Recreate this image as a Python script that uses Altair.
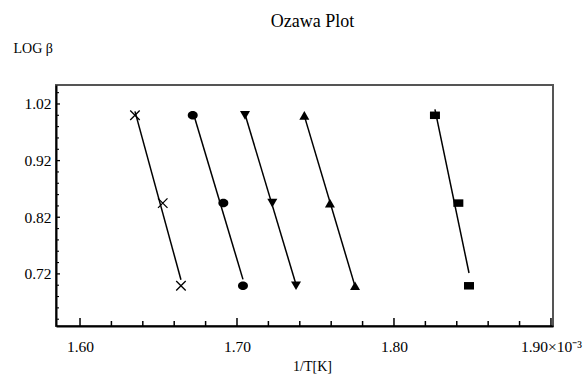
import altair as alt
import pandas as pd

# ---- data ----
series = ["cross", "circle", "down", "up", "square"]
log_beta = [1.0, 0.845, 0.699]
x_cross = [1.6350, 1.6527, 1.6643]
x_circle = [1.6718, 1.6913, 1.7038]
x_down = [1.7051, 1.7225, 1.7376]
x_up = [1.7429, 1.7592, 1.7752]
x_square = [1.8261, 1.8410, 1.8478]

x_major = [1.60, 1.70, 1.80, 1.90]
x_minor = [1.62, 1.64, 1.66, 1.68, 1.72, 1.74, 1.76, 1.78, 1.82, 1.84, 1.86, 1.88]
y_major = [0.72, 0.82, 0.92, 1.02]
y_minor = [0.64, 0.66, 0.68, 0.70, 0.74, 0.76, 0.78, 0.80, 0.84, 0.86, 0.88, 0.90,
           0.94, 0.96, 0.98, 1.00, 1.04]

rows = []
for name, xs in zip(series, [x_cross, x_circle, x_down, x_up, x_square]):
    for xv, yv in zip(xs, log_beta):
        rows.append({"series": name, "x": xv, "logb": yv})
df = pd.DataFrame(rows)

W, H = 497, 241
FONT = "Liberation Serif"
xscale = alt.Scale(domain=[1.5847, 1.9013], nice=False, zero=False)
yscale = alt.Scale(domain=[0.628, 1.0535], nice=False, zero=False)

xaxis = alt.Axis(
    values=x_major, ticks=False, grid=False, labelPadding=13,
    labelExpr="datum.value >= 1.899 ? '1.90\u00d710\u207b\u00b3' : format(datum.value, '.2f')",
    title="1/T[K]", titleX=256, titleY=33, titleBaseline="top",
    titleAlign="center", titleFontWeight="normal", titleFontSize=14,
    labelFont=FONT, titleFont=FONT, labelFontSize=15.5, labelColor="black", titleColor="black",
    domainColor="black", domainWidth=2,
)
yaxis = alt.Axis(
    values=y_major, ticks=False, grid=False, format=".2f", labelPadding=5,
    title="LOG \u03b2", titleAngle=0, titleAlign="left", titleX=-43, titleY=-37,
    titleBaseline="middle", titleFontWeight="normal", titleFontSize=14,
    labelFont=FONT, titleFont=FONT, labelFontSize=15.5, labelColor="black", titleColor="black",
    domainColor="black", domainWidth=2,
)


def X(field):
    return alt.X(field, type="quantitative", scale=xscale, axis=xaxis)


def Y(field):
    return alt.Y(field, type="quantitative", scale=yscale, axis=yaxis)


base = alt.Chart(df)

lines = base.transform_regression(
    "x", "logb", groupby=["series"]
).mark_line(color="black", strokeWidth=1.5).encode(
    x=X("x"), y=Y("logb"), detail="series:N",
)

cross_pts = base.transform_filter(alt.datum.series == "cross").mark_point(
    shape="M-1,-1L1,1M-1,1L1,-1", filled=False, color="black", strokeWidth=1.3, size=90, opacity=1
).encode(x=X("x"), y=Y("logb"))

filled_pts = base.transform_filter(alt.datum.series != "cross").mark_point(
    filled=True, color="black", opacity=1
).encode(
    x=X("x"), y=Y("logb"),
    shape=alt.Shape(
        "series:N",
        scale=alt.Scale(
            domain=["circle", "down", "up", "square"],
            range=["M-1,0A1,0.85,0,1,1,1,0A1,0.85,0,1,1,-1,0Z", "triangle-down", "triangle-up",
                   "M-1,-0.75H1V0.75H-1Z"],
        ),
        legend=None,
    ),
    size=alt.value(100),
)

xmaj = alt.Chart(pd.DataFrame({"x": x_major})).mark_rule(color="black", strokeWidth=1.5).encode(
    x=X("x"), y=alt.value(H), y2=alt.value(H - 8))
xmin = alt.Chart(pd.DataFrame({"x": x_minor})).mark_rule(color="black", strokeWidth=1.5).encode(
    x=X("x"), y=alt.value(H), y2=alt.value(H - 5))
ymaj = alt.Chart(pd.DataFrame({"logb": y_major})).mark_rule(color="black", strokeWidth=1.3).encode(
    y=Y("logb"), x=alt.value(0), x2=alt.value(4))
ymin = alt.Chart(pd.DataFrame({"logb": y_minor})).mark_rule(color="black", strokeWidth=1.1).encode(
    y=Y("logb"), x=alt.value(0), x2=alt.value(3))

chart = alt.layer(lines, cross_pts, filled_pts, xmaj, xmin, ymaj, ymin).properties(
    width=W, height=H,
    background="white",
    autosize=alt.AutoSizeParams(type="none"),
    padding={"left": 56, "top": 85, "right": 30, "bottom": 50},
    title=alt.TitleParams("Ozawa Plot", font=FONT, fontSize=18, fontWeight="normal",
                          anchor="middle", dx=8, offset=10, color="black"),
).configure_view(
    stroke="#555", strokeWidth=2
)

chart.save("out.html", embed_options={"renderer": "svg", "actions": False})
